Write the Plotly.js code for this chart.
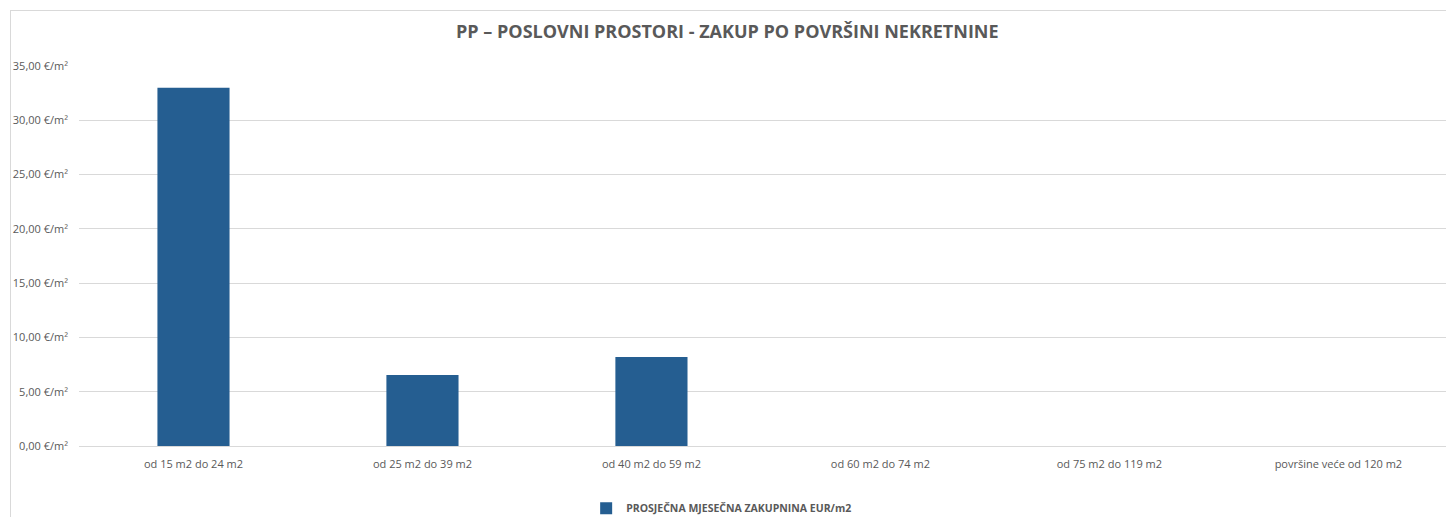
<!DOCTYPE html>
<html>
<head>
<meta charset="utf-8">
<script src="https://cdn.plot.ly/plotly-3.0.1.min.js"></script>
<style>
html,body{margin:0;padding:0;background:#fff;}
#wrap{position:relative;width:1446px;height:517px;overflow:hidden;}
#chart{width:1446px;height:517px;}
#frame{position:absolute;left:10px;top:10px;width:1500px;height:600px;border:1px solid #d9d9d9;pointer-events:none;}
</style>
</head>
<body>
<div id="wrap"><div id="chart"></div><div id="frame"></div></div>
<script>
var categories = ["od 15 m2 do 24 m2", "od 25 m2 do 39 m2", "od 40 m2 do 59 m2", "od 60 m2 do 74 m2", "od 75 m2 do 119 m2", "površine veće od 120 m2"];
var values = [33.0, 6.55, 8.2, null, null, null];
var seriesName = "PROSJEČNA MJESEČNA ZAKUPNINA EUR/m2";
var chartTitle = "PP – POSLOVNI PROSTORI - ZAKUP PO POVRŠINI NEKRETNINE";

var fontFam = "Open Sans, Noto Sans, sans-serif";
var trace = {
  type: "bar",
  x: categories,
  y: values,
  name: seriesName,
  width: 0.315,
  marker: {color: "#255e91"},
  hoverinfo: "x+y"
};
var layout = {
  width: 1446, height: 517,
  margin: {l: 79, r: 0, t: 66, b: 71, pad: 0},
  paper_bgcolor: "rgba(0,0,0,0)",
  plot_bgcolor: "rgba(0,0,0,0)",
  separators: ",.",
  title: {text: "<b>" + chartTitle + "</b>", x: 0.503, xanchor: "center", y: 0.938, yanchor: "middle",
          font: {family: fontFam, size: 18, color: "#595959"}},
  xaxis: {type: "category", range: [-0.5, 5.47], showgrid: false, zeroline: false, showline: false,
          ticks: "", ticklabelstandoff: 10, automargin: false,
          tickfont: {family: fontFam, size: 11, color: "#595959"}, fixedrange: true},
  yaxis: {range: [0, 35], dtick: 5, tick0: 0, tickformat: ".2f", ticksuffix: " €/m²",
          showgrid: true, gridcolor: "#d9d9d9", gridwidth: 1, zeroline: true, zerolinecolor: "#d9d9d9",
          showline: false, ticks: "", ticklabelstandoff: 10, automargin: false,
          tickfont: {family: fontFam, size: 11, color: "#595959"}, fixedrange: true},
  showlegend: true,
  legend: {orientation: "h", xanchor: "left", x: 0.371, yref: "container", y: 0.017, yanchor: "middle",
           font: {family: fontFam, size: 10.5, color: "#595959", weight: "bold"}, itemwidth: 30},
  bargap: 0.685
};
Plotly.newPlot("chart", [trace], layout, {displayModeBar: false, staticPlot: true});
</script>
</body>
</html>
